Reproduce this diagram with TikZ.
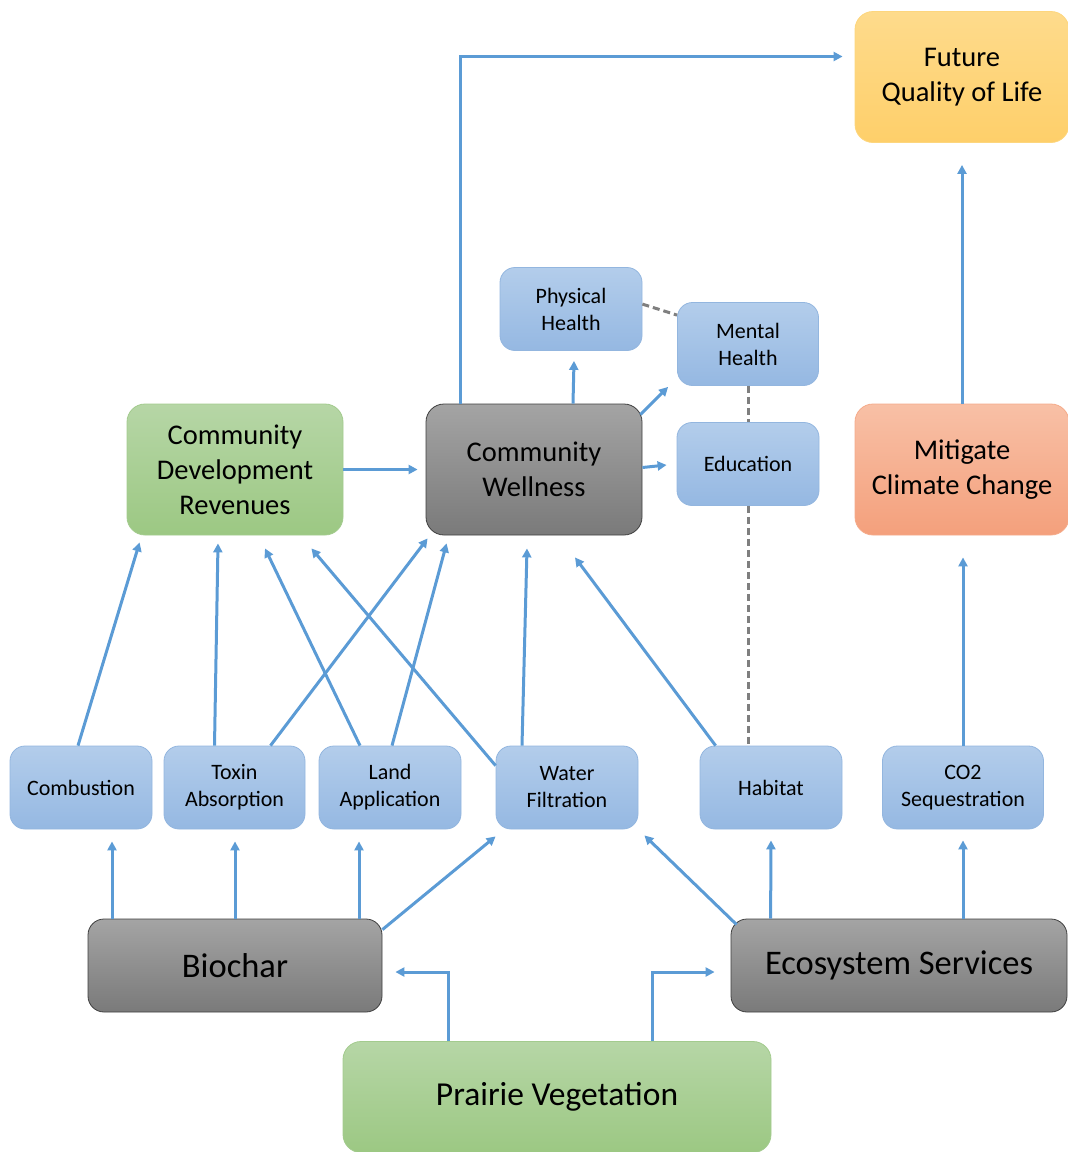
\documentclass[tikz,border=0pt]{standalone}
\usepackage{fontspec}
\setmainfont{Carlito}
\usetikzlibrary{arrows.meta}

\definecolor{arrowblue}{HTML}{5B9BD5}
\definecolor{dashgray}{HTML}{7F7F7F}
\definecolor{blueTop}{HTML}{B3CDEB}
\definecolor{blueBot}{HTML}{95B8E2}
\definecolor{blueLine}{HTML}{93B6DF}
\definecolor{greenTop}{HTML}{B6D6A6}
\definecolor{greenBot}{HTML}{9CC883}
\definecolor{greenLine}{HTML}{A3CB8E}
\definecolor{grayTop}{HTML}{A4A4A4}
\definecolor{grayBot}{HTML}{7A7A7A}
\definecolor{grayLine}{HTML}{3F3F3F}
\definecolor{goldTop}{HTML}{FEDB8C}
\definecolor{goldBot}{HTML}{FECF6A}
\definecolor{goldLine}{HTML}{FDD67E}
\definecolor{salmonTop}{HTML}{F8C0A6}
\definecolor{salmonBot}{HTML}{F4A07C}
\definecolor{salmonLine}{HTML}{F5AB8A}

\begin{document}
\begin{tikzpicture}[x=1pt, y=-1pt,
        box/.style = {rectangle, rounded corners=15pt, align=center, inner sep=0pt, text=black},
        bluebox/.style = {box, top color=blueTop, bottom color=blueBot, draw=blueLine, line width=0.8pt,
            minimum width=142pt, minimum height=83pt, font=\fontsize{22}{27}\selectfont},
        midbox/.style = {box, rounded corners=18pt, minimum width=214pt, minimum height=131pt,
            line width=0.8pt, font=\fontsize{28.5}{35}\selectfont},
        bigbox/.style = {box, rounded corners=16pt, minimum height=93pt, line width=0.8pt,
            font=\fontsize{34.5}{41}\selectfont},
        greybox/.style = {top color=grayTop, bottom color=grayBot, draw=grayLine},
        greenbox/.style = {top color=greenTop, bottom color=greenBot, draw=greenLine},
        arr/.style = {-{Triangle[length=9pt,width=9pt]}, draw=arrowblue, line width=3pt},
        link/.style = {draw=dashgray, line width=3pt, dash pattern=on 7pt off 4pt}]
    \useasboundingbox (0,0) rectangle (1068,1152);

    % top level
    \node[midbox, top color=goldTop, bottom color=goldBot, draw=goldLine] (fut) at (962,77) {Future\\Quality of Life};
    \node[midbox, top color=salmonTop, bottom color=salmonBot, draw=salmonLine] (mit) at (962,469.5) {Mitigate\\Climate Change};
    \node[midbox, greenbox, minimum width=216pt] (cdr) at (235,469.5) {Community\\Development\\Revenues};
    \node[midbox, greybox, minimum width=216pt] (cw) at (534,469.5) {Community\\Wellness};

    % wellness outcomes
    \node[bluebox] (phys) at (571,309) {Physical\\Health};
    \node[bluebox, minimum width=141pt] (ment) at (748,344) {Mental\\Health};
    \node[bluebox] (edu) at (748,464) {Education};

    % services row
    \node[bluebox] (comb) at (81,787.5) {Combustion};
    \node[bluebox, minimum width=141pt] (tox) at (234.5,787.5) {Toxin\\Absorption};
    \node[bluebox] (land) at (390,787.5) {Land\\Application};
    \node[bluebox] (water) at (567,787.5) {Water\\Filtration};
    \node[bluebox] (hab) at (771,787.5) {Habitat};
    \node[bluebox, minimum width=161pt] (co2) at (963,787.5) {CO2\\Sequestration};

    % sources
    \node[bigbox, greybox, minimum width=294pt] (bio) at (235,965.5) {Biochar};
    \node[bigbox, greybox, minimum width=336pt] (eco) at (899,965.5) {Ecosystem Services};
    \node[bigbox, greenbox, rounded corners=18pt, minimum width=428pt, minimum height=111pt,
        font=\fontsize{33.5}{40}\selectfont] (pra) at (557,1097) {Prairie Vegetation};

    % upper links
    \draw[arr] ([xshift=35pt]cw.north west) |- ([xshift=-12pt,yshift=20.5pt]fut.west);
    \draw[arr] (mit.north) -- ([yshift=-22pt]fut.south);
    \draw[arr] (co2.north) -- ([xshift=1pt,yshift=-22pt]mit.south);
    \draw[arr] (cdr.east) -- ([xshift=-8pt]cw.west);
    \draw[arr] ([xshift=39pt]cw.north) -- ([xshift=3pt,yshift=-10pt]phys.south);
    \draw[arr] ([xshift=-2pt,yshift=-11pt]cw.north east) -- ([xshift=-9pt,yshift=-1pt]ment.south west);
    \draw[arr] ([yshift=2pt]cw.east) -- ([xshift=-10pt,yshift=-1pt]edu.west);
    \draw[link] ([yshift=-37pt]phys.north east) -- ([yshift=-13pt]ment.north west);
    \draw[link] (ment.south) -- (edu.north);
    \draw[link] (edu.south) -- (edu.south |- hab.north);

    % into revenues and wellness
    \draw[arr] ([xshift=-3pt]comb.north) -- ([xshift=13pt,yshift=-7pt]cdr.south west);
    \draw[arr] ([xshift=-20pt]tox.north) -- ([xshift=-17pt,yshift=-8pt]cdr.south);
    \draw[arr] ([xshift=-30pt]land.north) -- ([xshift=30pt,yshift=-13pt]cdr.south);
    \draw[arr] ([yshift=-20pt]water.north west) -- ([xshift=-32pt,yshift=-13pt]cdr.south east);
    \draw[arr] ([xshift=36pt]tox.north) -- ([xshift=2pt,yshift=-3pt]cw.south west);
    \draw[arr] ([xshift=2pt]land.north) -- ([xshift=21pt,yshift=-8pt]cw.south west);
    \draw[arr] ([xshift=-45pt]water.north) -- ([xshift=-7pt,yshift=-13pt]cw.south);
    \draw[arr] ([xshift=16pt]hab.north west) -- ([xshift=41pt,yshift=-22pt]cw.south);

    % from biochar and ecosystem services
    \draw[arr] ([xshift=-123pt]bio.north) -- ([xshift=31pt,yshift=-12pt]comb.south);
    \draw[arr] (bio.north) -- ([xshift=0.5pt,yshift=-12pt]tox.south);
    \draw[arr] ([xshift=124pt]bio.north) -- ([xshift=-31pt,yshift=-12pt]land.south);
    \draw[arr] ([yshift=-11pt]bio.north east) -- ([yshift=-7pt]water.south west);
    \draw[arr] ([xshift=6pt,yshift=-6pt]eco.north west) -- ([xshift=6pt,yshift=-6pt]water.south east);
    \draw[arr] ([xshift=40pt]eco.north west) -- ([yshift=-11pt]hab.south);
    \draw[arr] ([xshift=64pt]eco.north) -- ([yshift=-11pt]co2.south);

    % from prairie
    \draw[arr] ([xshift=-109pt]pra.north) |- ([xshift=13pt,yshift=-6.5pt]bio.east);
    \draw[arr] ([xshift=95pt]pra.north) |- ([xshift=-16pt,yshift=-6.5pt]eco.west);
\end{tikzpicture}
\end{document}
